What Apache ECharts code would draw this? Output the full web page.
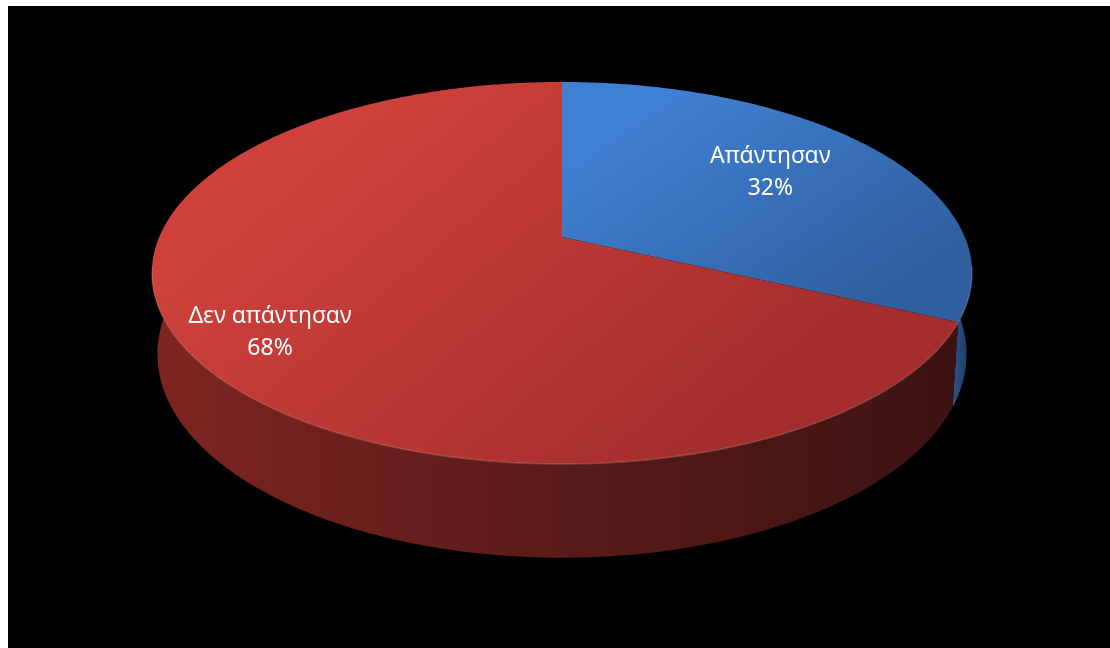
<!DOCTYPE html>
<html>
<head>
<meta charset="utf-8">
<style>
  html, body { margin: 0; padding: 0; background: #ffffff; }
  #chart { position: absolute; left: 8px; top: 6px; width: 1102px; height: 642px; background: #000000; }
</style>
<script src="https://cdn.jsdelivr.net/npm/echarts@6/dist/echarts.min.js"></script>
</head>
<body>
<div id="chart"></div>
<script>
// Survey response shares
const categories = ['Απάντησαν', 'Δεν απάντησαν'];
const shares = [32, 68];

// Slice colours: top face gradient (light, dark) and side wall gradient (left, right)
const topColors = [['#4080d2', '#2f5f9f'], ['#cf413b', '#a22d2c']];
const sideColors = [['#2c5488', '#1d3961'], ['#7e2521', '#3c1312']];
// Label placement: fraction of radius along the slice's middle, plus a pixel nudge
const labelReach = [0.64, 0.81];
const labelNudge = [[4, -5], [8, 8]];

// Perspective view of a flat cylinder (camera distance = 1)
const view = {
  cx: 554, cy: 231,      // projected centre of the top face
  focal: 1899.5,
  radius: 0.212,
  height: 0.0475,
  sinA: 0.4575, cosA: 0.889
};

function project(theta, r, bottom) {
  const u = r * view.radius * Math.sin(theta);
  const w = r * view.radius * Math.cos(theta);
  const yd = bottom ? view.height : 0;
  const depth = 1 + yd * view.sinA * 0.6 + w * view.cosA;
  return [
    view.cx + view.focal * u / depth,
    view.cy - view.focal * (w * view.sinA - yd * view.cosA) / depth
  ];
}

function arc(a0, a1, r, bottom) {
  const pts = [];
  const n = Math.max(2, Math.ceil(Math.abs(a1 - a0) / (Math.PI / 360)));
  for (let i = 0; i <= n; i++) {
    pts.push(project(a0 + (a1 - a0) * i / n, r, bottom));
  }
  return pts;
}

const total = shares.reduce((a, b) => a + b, 0);
const starts = [];
let acc = 0;
shares.forEach(v => { starts.push(acc / total * Math.PI * 2); acc += v; });

const data = categories.map((name, i) => ({ name, value: shares[i] }));

function sliceRange(idx, api) {
  const a0 = starts[idx];
  const a1 = a0 + api.value(0) / total * Math.PI * 2;
  return [a0, a1];
}

function renderSide(params, api) {
  const idx = params.dataIndex;
  const [a0, a1] = sliceRange(idx, api);
  // only the front half of the wall faces the viewer
  const s = Math.max(a0, Math.PI / 2);
  const e = Math.min(a1, Math.PI * 1.5);
  if (e <= s) return { type: 'group', children: [] };
  const topEdge = arc(s, e, 1, false);
  const botEdge = arc(e, s, 1, true);
  const c = sideColors[idx];
  return {
    type: 'polygon',
    shape: { points: topEdge.concat(botEdge) },
    style: {
      fill: new echarts.graphic.LinearGradient(0, 0, 1, 0, [
        { offset: 0, color: c[0] },
        { offset: 0.45, color: echarts.color.lerp(0.5, c) },
        { offset: 1, color: c[1] }
      ]),
      stroke: null
    }
  };
}

function renderTop(params, api) {
  const idx = params.dataIndex;
  const [a0, a1] = sliceRange(idx, api);
  const pts = [project(0, 0, false)].concat(arc(a0, a1, 1, false));
  const c = topColors[idx];
  const mid = (a0 + a1) / 2;
  const lp = project(mid, labelReach[idx], false);
  const pct = Math.round(api.value(0) / total * 100) + '%';
  const children = [
    {
      type: 'polygon',
      shape: { points: pts },
      style: {
        fill: new echarts.graphic.LinearGradient(0.3, 0, 0.7, 1, [
          { offset: 0, color: c[0] },
          { offset: 1, color: c[1] }
        ]),
        stroke: null
      }
    }
  ];
  // soft highlight along the front rim
  const s = Math.max(a0, Math.PI * 0.55);
  const e = Math.min(a1, Math.PI * 1.45);
  if (e > s) {
    children.push({
      type: 'polyline',
      shape: { points: arc(s, e, 1, false) },
      style: { stroke: 'rgba(255,200,190,0.22)', lineWidth: 1.5, fill: null }
    });
  }
  children.push({
    type: 'text',
    x: lp[0] + labelNudge[idx][0],
    y: lp[1] + labelNudge[idx][1],
    style: {
      text: categories[idx] + '\n' + pct,
      fill: '#ffffff',
      font: '23px "Noto Sans", sans-serif',
      lineHeight: 32,
      align: 'center',
      verticalAlign: 'middle'
    }
  });
  return { type: 'group', children };
}

const chart = echarts.init(document.getElementById('chart'));
chart.setOption({
  backgroundColor: '#000000',
  animation: false,
  series: [
    { type: 'custom', coordinateSystem: 'none', data, renderItem: renderSide, z: 1, silent: true },
    { type: 'custom', coordinateSystem: 'none', data, renderItem: renderTop, z: 2, silent: true }
  ]
});
</script>
</body>
</html>
